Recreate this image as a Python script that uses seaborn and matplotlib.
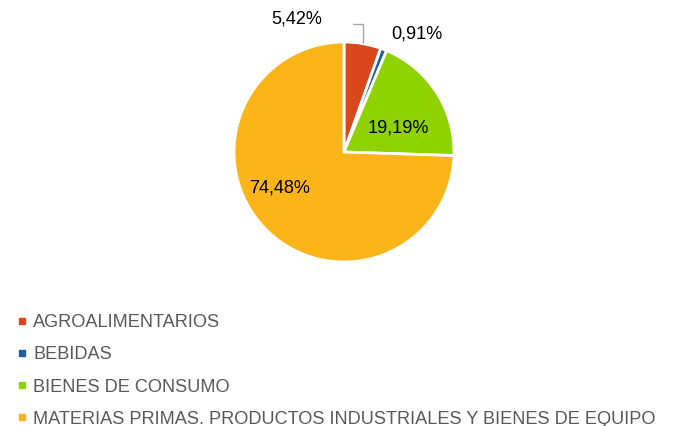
import matplotlib.pyplot as plt
import seaborn as sns
from matplotlib.lines import Line2D

# Data
categories = ['AGROALIMENTARIOS', 'BEBIDAS', 'BIENES DE CONSUMO',
              'MATERIAS PRIMAS. PRODUCTOS INDUSTRIALES Y BIENES DE EQUIPO']
shares = [5.42, 0.91, 19.19, 74.48]
colors = ['#D9471B', '#1F5FA5', '#8ED300', '#FBB518']

sns.set_theme(style='white')
plt.rcParams['font.family'] = ['Liberation Sans', 'DejaVu Sans']

fig = plt.figure(figsize=(6.75, 4.26), dpi=100)
W, H = 675, 426
cx, cy, r = 344, 152, 110
ax = fig.add_axes([(cx - r) / W, (H - cy - r) / H, 2 * r / W, 2 * r / H])

wedges, _ = ax.pie(shares, colors=colors, startangle=90, counterclock=False,
                   wedgeprops=dict(edgecolor='white', linewidth=2))
ax.set_xlim(-1, 1)
ax.set_ylim(-1, 1)
ax.axis('off')

fmt = lambda v: f"{v:.2f}".replace('.', ',') + '%'
txt = dict(fontsize=13.1, color='#000000', ha='center', va='center')

# label positions (relative to pie radius)
ax.text(-0.43, 1.21, fmt(shares[0]), **txt)
ax.plot([0.173, 0.173, 0.085], [0.99, 1.165, 1.165], color='#A6A6A6', lw=1, clip_on=False)
ax.text(0.66, 1.07, fmt(shares[1]), **txt)
ax.text(0.49, 0.22, fmt(shares[2]), **txt)
ax.text(-0.59, -0.33, fmt(shares[3]), **txt)

handles = [Line2D([0], [0], marker='s', linestyle='none', markersize=4.5,
                  markerfacecolor=c, markeredgecolor=c) for c in colors]
leg = fig.legend(handles, categories, loc='upper left', bbox_to_anchor=(17 / W, 1 - 314 / H),
                 frameon=False, fontsize=13.1, labelspacing=0.84, handlelength=0.5,
                 handletextpad=0.4, borderaxespad=0, borderpad=0)
for t in leg.get_texts():
    t.set_color('#595959')

fig.savefig('out.png', dpi=100)
